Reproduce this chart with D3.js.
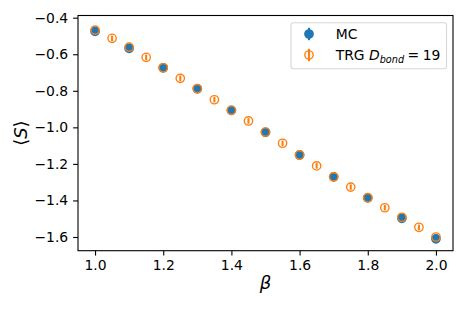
<!DOCTYPE html>
<html>
<head>
<meta charset="utf-8">
<script src="https://cdn.jsdelivr.net/npm/d3@7"></script>
<style>
  body { margin: 0; background: #fff; }
  text { font-family: "DejaVu Sans", sans-serif; fill: #000; }
</style>
</head>
<body>
<div id="chart"></div>
<script>
// Monte Carlo points
const mcBeta = [1.0, 1.1, 1.2, 1.3, 1.4, 1.5, 1.6, 1.7, 1.8, 1.9, 2.0]
const mcS = [-0.475, -0.568, -0.674, -0.789, -0.907, -1.027, -1.151, -1.271, -1.386, -1.498, -1.610]
const mcErr = [0.008, 0.008, 0.008, 0.008, 0.008, 0.008, 0.008, 0.008, 0.008, 0.008, 0.008]

// TRG points, D_bond = 19
const trgBeta = [1.0, 1.05, 1.1, 1.15, 1.2, 1.25, 1.3, 1.35, 1.4, 1.45, 1.5,
  1.55, 1.6, 1.65, 1.7, 1.75, 1.8, 1.85, 1.9, 1.95, 2.0]
const trgS = [-0.468, -0.513, -0.561, -0.617, -0.674, -0.732, -0.788, -0.849, -0.907, -0.965, -1.026,
  -1.087, -1.151, -1.211, -1.271, -1.327, -1.385, -1.440, -1.492, -1.547, -1.600]
const trgErr = [0.015, 0.015, 0.015, 0.015, 0.015, 0.015, 0.015, 0.015, 0.015, 0.015, 0.015,
  0.015, 0.015, 0.015, 0.015, 0.015, 0.015, 0.015, 0.015, 0.015, 0.015]

const xTicks = [1.0, 1.2, 1.4, 1.6, 1.8, 2.0]
const yTicks = [-0.4, -0.6, -0.8, -1.0, -1.2, -1.4, -1.6]

const blue = '#1f77b4'
const orange = '#ff7f0e'

const margin = { top: 15.5, right: 16, bottom: 62.3, left: 78 }
const width = 469 - margin.left - margin.right
const height = 313 - margin.top - margin.bottom

const xScale = d3.scaleLinear().domain([0.95, 2.05]).range([0, width])
const yScale = d3.scaleLinear().domain([-1.675, -0.388]).range([height, 0])

const svg = d3.select('#chart').append('svg')
  .attr('width', 469).attr('height', 313)

const g = svg.append('g')
  .attr('transform', `translate(${margin.left}, ${margin.top})`)

const fmt = d => d3.format('.1f')(d).replace('-', '\u2212')

const xAxis = g.append('g')
  .attr('transform', `translate(0, ${height})`)
  .call(d3.axisBottom(xScale).tickValues(xTicks).tickFormat(fmt).tickSize(4.9).tickPadding(4.9))
const yAxis = g.append('g')
  .call(d3.axisLeft(yScale).tickValues(yTicks).tickFormat(fmt).tickSize(4.9).tickPadding(4.9))

;[xAxis, yAxis].forEach(ax => {
  ax.select('.domain').remove()
  ax.selectAll('line').attr('stroke', '#000').attr('stroke-width', 1.1)
  ax.selectAll('text').style('font-size', '13.9px').style('font-family', '"DejaVu Sans", sans-serif')
})

// frame
g.append('rect')
  .attr('width', width).attr('height', height)
  .attr('fill', 'none').attr('stroke', '#000').attr('stroke-width', 1.1)

const mc = mcBeta.map((b, i) => ({ b: b, s: mcS[i], e: mcErr[i] }))
const trg = trgBeta.map((b, i) => ({ b: b, s: trgS[i], e: trgErr[i] }))

function errLines(cls, data, color) {
  g.selectAll('.' + cls).data(data).enter().append('line')
    .attr('class', cls)
    .attr('x1', d => xScale(d.b)).attr('x2', d => xScale(d.b))
    .attr('y1', d => yScale(d.s - d.e)).attr('y2', d => yScale(d.s + d.e))
    .attr('stroke', color).attr('stroke-width', 2.1)
}

// error bars go under the markers
errLines('trg-err', trg, orange)
errLines('mc-err', mc, blue)

g.selectAll('.mc-pt').data(mc).enter().append('circle')
  .attr('class', 'mc-pt')
  .attr('cx', d => xScale(d.b)).attr('cy', d => yScale(d.s))
  .attr('r', 4.17).attr('fill', blue).attr('stroke', blue).attr('stroke-width', 1.39)

g.selectAll('.trg-pt').data(trg).enter().append('circle')
  .attr('class', 'trg-pt')
  .attr('cx', d => xScale(d.b)).attr('cy', d => yScale(d.s))
  .attr('r', 4.17).attr('fill', 'none').attr('stroke', orange).attr('stroke-width', 1.39)

// axis labels
svg.append('text')
  .attr('x', margin.left + width / 2).attr('y', 289)
  .attr('text-anchor', 'middle')
  .style('font-size', '18px').style('font-style', 'italic')
  .text('\u03b2')

svg.append('text')
  .attr('transform', `translate(27, ${margin.top + height / 2}) rotate(-90)`)
  .attr('text-anchor', 'middle')
  .style('font-size', '18px')
  .html('\u27e8<tspan font-style="italic">S</tspan>\u27e9')

// legend
const legend = svg.append('g')
legend.append('rect')
  .attr('x', 291).attr('y', 22.7).attr('width', 155.5).attr('height', 46)
  .attr('rx', 2.5).attr('fill', '#fff').attr('fill-opacity', 0.8)
  .attr('stroke', '#d6d6d6').attr('stroke-width', 1.1)

const rows = [
  { y: 34, color: blue, filled: true },
  { y: 55, color: orange, filled: false }
]
rows.forEach(r => {
  legend.append('line')
    .attr('x1', 309).attr('x2', 309).attr('y1', r.y - 6.2).attr('y2', r.y + 6.2)
    .attr('stroke', r.color).attr('stroke-width', 2.1)
  legend.append('circle')
    .attr('cx', 309).attr('cy', r.y).attr('r', 4.17)
    .attr('fill', r.filled ? r.color : 'none')
    .attr('stroke', r.color).attr('stroke-width', 1.39)
})

legend.append('text').attr('x', 335.7).attr('y', 39)
  .style('font-size', '13.9px').text('MC')

const trgLabel = legend.append('text').attr('x', 335.7).attr('y', 60)
  .style('font-size', '13.9px')
trgLabel.append('tspan').text('TRG ')
trgLabel.append('tspan').style('font-style', 'italic').text('D')
trgLabel.append('tspan').style('font-style', 'italic').style('font-size', '9.7px')
  .attr('dy', 2.8).text('bond')
trgLabel.append('tspan').attr('dy', -2.8).attr('dx', 3.5).text('=')
trgLabel.append('tspan').attr('dx', 3.5).text('19')
</script>
</body>
</html>
